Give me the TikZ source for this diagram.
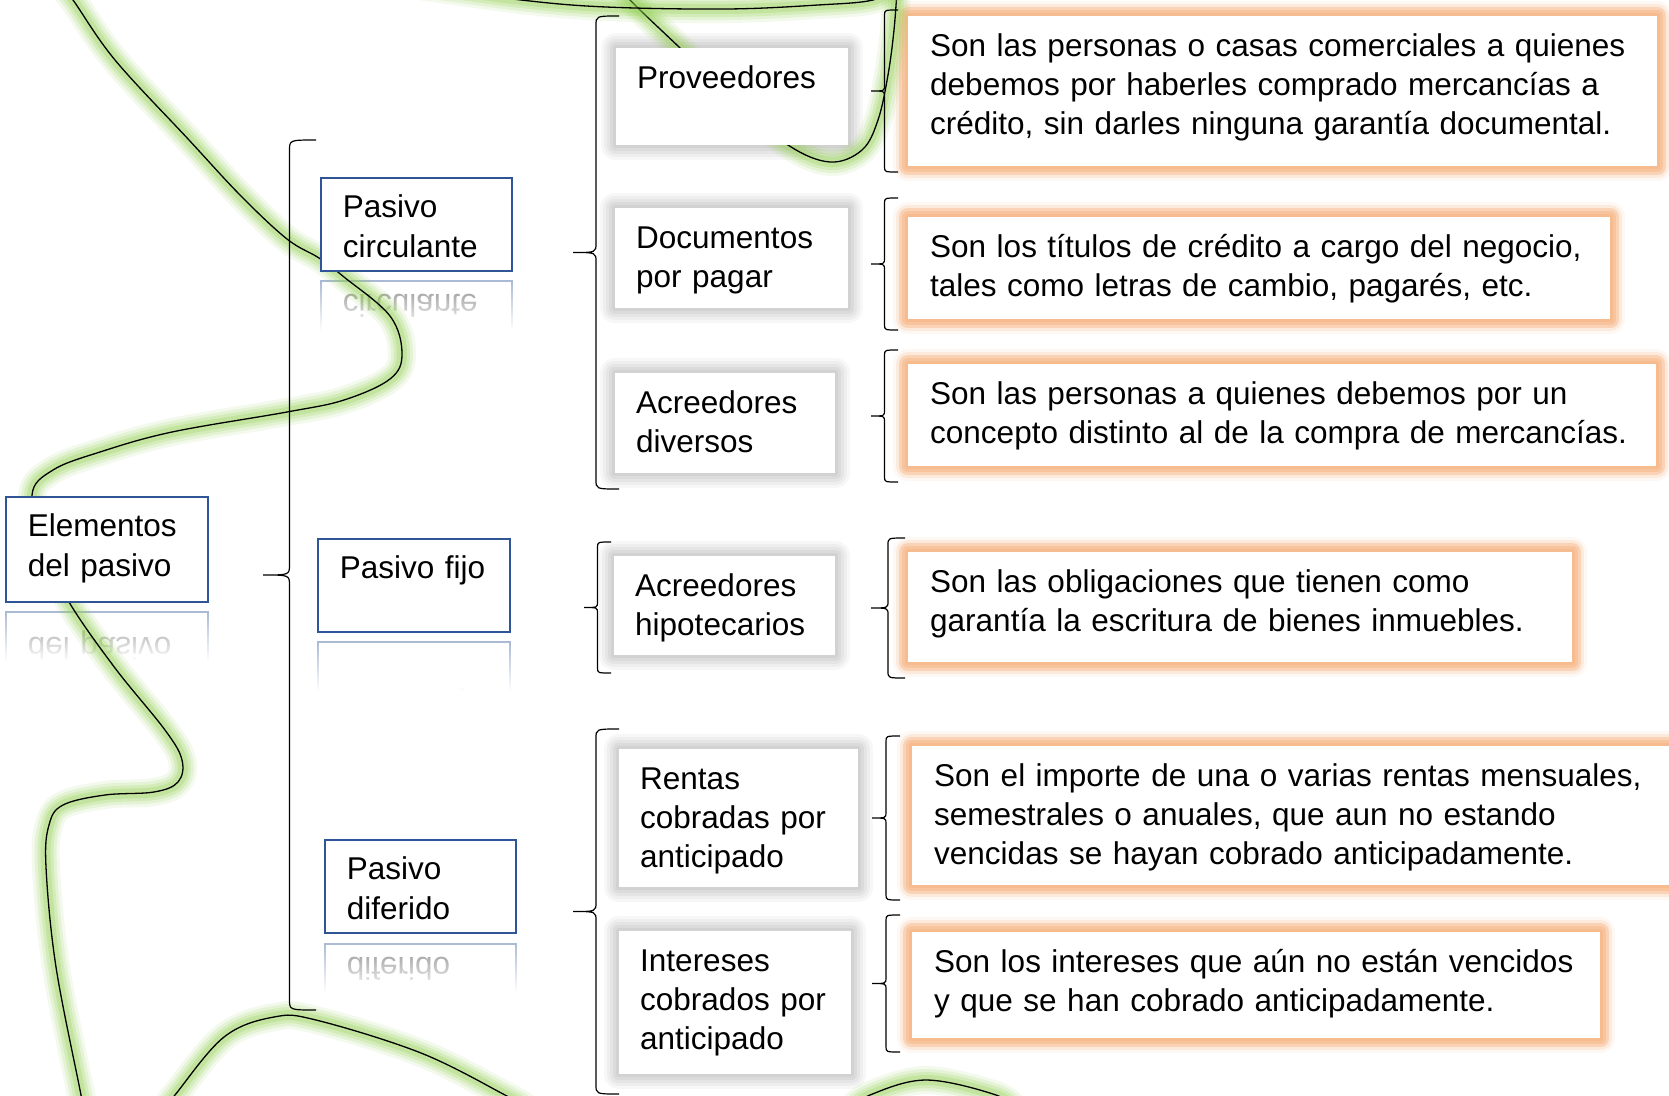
\documentclass[tikz,border=0pt]{standalone}
\usepackage{fontspec}
\setmainfont{Liberation Sans}
\usetikzlibrary{calc,fadings}

\definecolor{boxblue}{RGB}{47,85,151}
\definecolor{glowgreen}{RGB}{146,208,80}
\definecolor{gloworange}{RGB}{247,178,128}
\definecolor{shadowgray}{RGB}{165,165,165}

\pgfdeclarelayer{back}
\pgfdeclarelayer{mid}
\pgfsetlayers{back,mid,main}

\tikzfading[name=reflfade, top color=transparent!100, bottom color=transparent!0]

\tikzset{
  pbox/.style={draw=boxblue, line width=1.8pt, fill=white, anchor=north west, align=left,
    inner xsep=22pt, inner ysep=0pt, text height=40pt},
  refl/.style={draw=boxblue!45, text=black!50},
  sbox/.style={fill=white, anchor=north west, align=left, inner xsep=21pt, inner ysep=0pt, text height=40pt,
    execute at begin node={\rightskip=-20pt plus 1fil\relax}},
  obox/.style={fill=white, anchor=north west, align=left, inner xsep=22pt, inner ysep=0pt, text height=40pt,
    execute at begin node={\rightskip=-20pt plus 1fil\relax}},
  lbrace/.style={line width=1.2pt, to path={let \p1=(\tikztostart), \p2=(\tikztotarget), \n1={0.5*(\y1+\y2)} in
    (\p1) .. controls (\x1-#1pt,\y1) .. (\x1-#1pt,\y1-0.4*#1pt)
    -- (\x1-#1pt,\n1+0.4*#1pt) .. controls (\x1-#1pt,\n1) .. (\x1-2*#1pt,\n1)
    .. controls (\x1-#1pt,\n1) .. (\x1-#1pt,\n1-0.4*#1pt)
    -- (\x2-#1pt,\y2+0.4*#1pt) .. controls (\x2-#1pt,\y2) .. (\p2)}}
}

% green marker strokes
\newcommand{\glowcurve}[1]{%
  \foreach \w/\o in {28/0.1,22/0.15,16/0.2,10/0.25}{%
    \draw[glowgreen, line width=\w pt, opacity=\o, line cap=round, line join=round] plot[smooth, tension=0.6] coordinates {#1};}
  \draw[line width=1.3pt] plot[smooth, tension=0.6] coordinates {#1};}

% soft border round a node
\newcommand{\glowbox}[5]{%
  \foreach \w/\o in {30/#2,24/#3,18/#4,12/#5,6/#5}{%
    \draw[#1, line width=\w pt, opacity=\o, line join=round] (\n.north west) rectangle (\n.south east);}}

\begin{document}
\begin{tikzpicture}[x=1pt, y=-1pt, font=\fontsize{31.5}{39.3}\selectfont]
\useasboundingbox (0,0) rectangle (1669,1095);

% Main categories
\node[pbox, text width=158pt, text depth=65pt] (elem) at (5,496) {Elementos\\del pasivo};
\node[pbox, text width=147pt, text depth=53pt] (circ) at (320,177) {Pasivo\\circulante};
\node[pbox, text width=148pt, text depth=53pt] (fijo) at (317,538) {Pasivo fijo};
\node[pbox, text width=147pt, text depth=53pt] (dif) at (324,839) {Pasivo\\diferido};

% Accounts
\node[sbox, text width=190pt, text depth=57pt] (prov) at (616,48) {Proveedores};
\node[sbox, text width=191pt, text depth=60pt] (docs) at (615,208) {Documentos\\por pagar};
\node[sbox, text width=178pt, text depth=60pt] (adiv) at (615,373) {Acreedores\\diversos};
\node[sbox, text width=179pt, text depth=59pt] (ahip) at (614,556) {Acreedores\\hipotecarios};
\node[sbox, text width=197pt, text depth=98pt] (rent) at (619,749) {Rentas\\cobradas por\\anticipado};
\node[sbox, text width=190pt, text depth=103pt] (inter) at (619,931) {Intereses\\cobrados por\\anticipado};

% Definitions
\node[obox, text width=705pt, text depth=110pt] (o1) at (908,16) {Son las personas o casas comerciales a quienes\\debemos por haberles comprado mercancías a\\crédito, sin darles ninguna garantía documental.};
\node[obox, text width=658pt, text depth=62pt] (o2) at (908,217) {Son los títulos de crédito a cargo del negocio,\\tales como letras de cambio, pagarés, etc.};
\node[obox, text width=704pt, text depth=62pt] (o3) at (908,364) {Son las personas a quienes debemos por un\\concepto distinto al de la compra de mercancías.};
\node[obox, text width=620pt, text depth=70pt] (o4) at (908,552) {Son las obligaciones que tienen como\\garantía la escritura de bienes inmuebles.};
\node[obox, text width=756pt, text depth=99pt] (o5) at (912,746) {Son el importe de una o varias rentas mensuales,\\semestrales o anuales, que aun no estando\\vencidas se hayan cobrado anticipadamente.};
\node[obox, text width=644pt, text depth=66pt] (o6) at (912,932) {Son los intereses que aún no están vencidos\\y que se han cobrado anticipadamente.};

% Brace ends
\coordinate (elem up) at (316,140);
\coordinate (elem dn) at (316,1010);
\coordinate (circ up) at (619,16);
\coordinate (circ dn) at (619,489);
\coordinate (fijo up) at (611,542);
\coordinate (fijo dn) at (611,673);
\coordinate (dif up) at (619,729);
\coordinate (dif dn) at (619,1094);
\coordinate (prov up) at (898,10);
\coordinate (prov dn) at (898,172);
\coordinate (docs up) at (898,198);
\coordinate (docs dn) at (898,330);
\coordinate (adiv up) at (898,350);
\coordinate (adiv dn) at (898,482);
\coordinate (ahip up) at (905,538);
\coordinate (ahip dn) at (905,678);
\coordinate (rent up) at (900,736);
\coordinate (rent dn) at (900,900);
\coordinate (inter up) at (900,915);
\coordinate (inter dn) at (900,1052);

\draw[lbrace=26.5] (elem up) to (elem dn);
\draw[lbrace=23] (circ up) to (circ dn);
\draw[lbrace=13.5] (fijo up) to (fijo dn);
\draw[lbrace=23] (dif up) to (dif dn);
\draw[lbrace=13.5] (prov up) to (prov dn);
\draw[lbrace=13.5] (docs up) to (docs dn);
\draw[lbrace=13.5] (adiv up) to (adiv dn);
\draw[lbrace=17] (ahip up) to (ahip dn);
\draw[lbrace=14] (rent up) to (rent dn);
\draw[lbrace=14] (inter up) to (inter dn);

% Shadows, glows and reflections
\begin{pgfonlayer}{back}
\fill[white] (0,0) rectangle (1669,1095);
\foreach \n in {prov,docs,adiv,ahip,rent,inter}{\glowbox{shadowgray}{0.08}{0.1}{0.12}{0.15}}
\foreach \n in {o1,o2,o3,o4,o5,o6}{\glowbox{gloworange}{0.08}{0.2}{0.4}{0.45}}

\begin{scope}
  \clip (0,607) rectangle (215,660);
  \begin{scope}[shift={(0,1214)}, yscale=-1]
    \node[pbox, refl, transform shape, text width=158pt, text depth=65pt] (elem r) at (5,496) {Elementos\\del pasivo};
  \end{scope}
  \fill[white, path fading=reflfade] (0,606) rectangle (215,661);
\end{scope}
\begin{scope}
  \clip (312,276) rectangle (518,330);
  \begin{scope}[shift={(0,552)}, yscale=-1]
    \node[pbox, refl, transform shape, text width=147pt, text depth=53pt] (circ r) at (320,177) {Pasivo\\circulante};
  \end{scope}
  \fill[white, path fading=reflfade] (312,275) rectangle (518,331);
\end{scope}
\begin{scope}
  \clip (310,637) rectangle (516,690);
  \begin{scope}[shift={(0,1274)}, yscale=-1]
    \node[pbox, refl, transform shape, text width=148pt, text depth=53pt] (fijo r) at (317,538) {Pasivo fijo};
  \end{scope}
  \fill[white, path fading=reflfade] (310,636) rectangle (516,691);
\end{scope}
\begin{scope}
  \clip (316,938) rectangle (522,992);
  \begin{scope}[shift={(0,1877)}, yscale=-1]
    \node[pbox, refl, transform shape, text width=147pt, text depth=53pt] (dif r) at (324,839) {Pasivo\\diferido};
  \end{scope}
  \fill[white, path fading=reflfade] (316,937) rectangle (522,993);
\end{scope}
\end{pgfonlayer}

% Marker lines
\begin{pgfonlayer}{mid}
\glowcurve{(60,-15) (73,0) (115,60) (189,140) (241,196) (287,239) (319,258) (344,277) (390,316) (402,354) (390,379) (344,400) (287,412) (172,432) (100,452) (53,470) (32,495) (45,550) (69,602) (115,668) (165,730) (182,760) (178,782) (154,792) (105,795) (63,805) (49,825) (46,867) (56,967) (81,1095) (84,1115)}
\glowcurve{(625,-10) (630,0) (679,47) (735,100) (788,145) (830,162) (862,150) (878,120) (888,75) (894,30) (897,-10)}
\glowcurve{(420,-14) (521,0) (606,7) (727,9) (818,5) (873,0) (900,-14)}
\glowcurve{(160,1115) (175,1095) (224,1037) (274,1017) (316,1020) (421,1053) (505,1095) (530,1110)}
\glowcurve{(850,1110) (870,1095) (926,1080) (996,1095) (1015,1110)}
\end{pgfonlayer}

\end{tikzpicture}
\end{document}
